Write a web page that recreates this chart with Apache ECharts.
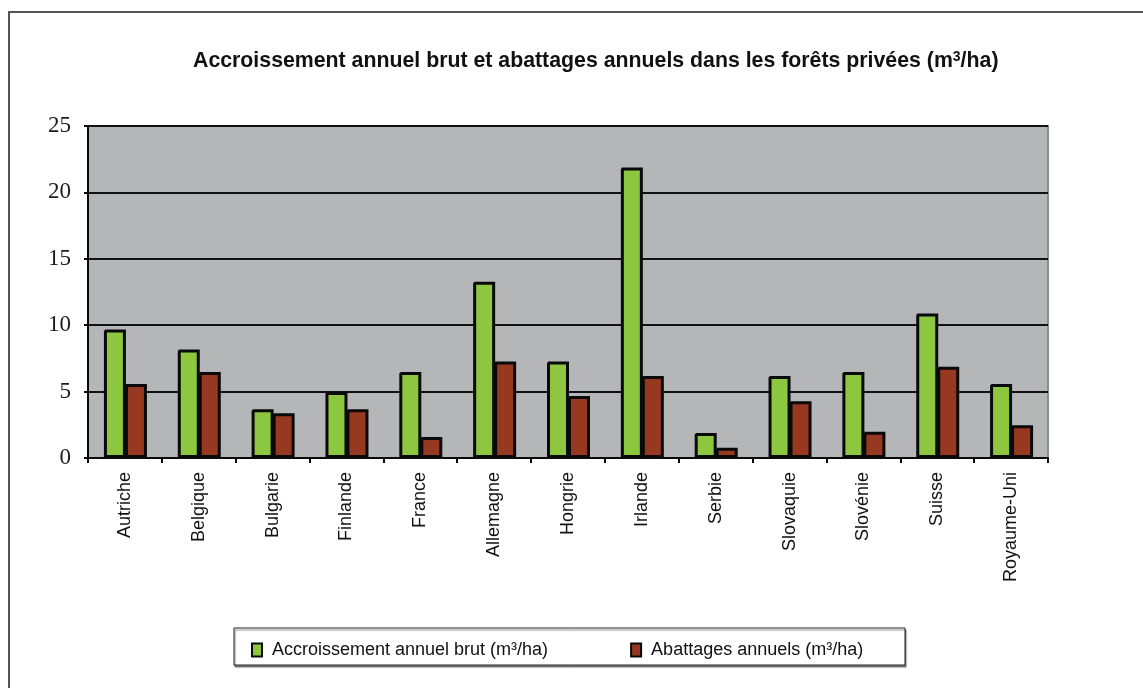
<!DOCTYPE html>
<html>
<head>
<meta charset="utf-8">
<script src="https://cdn.jsdelivr.net/npm/echarts@6/dist/echarts.min.js"></script>
<style>
  html, body { margin: 0; padding: 0; background: #ffffff; }
  #chart { width: 1143px; height: 688px; }
</style>
</head>
<body>
<div id="chart"></div>
<script>
// Private forests: gross annual increment and annual fellings (m3/ha)
const countries = ['Autriche', 'Belgique', 'Bulgarie', 'Finlande', 'France', 'Allemagne', 'Hongrie',
  'Irlande', 'Serbie', 'Slovaquie', 'Slovénie', 'Suisse', 'Royaume-Uni'];
const increment = [9.6, 8.1, 3.6, 4.9, 6.4, 13.2, 7.2, 21.8, 1.8, 6.1, 6.4, 10.8, 5.5];
const fellings = [5.5, 6.4, 3.3, 3.6, 1.5, 7.2, 4.6, 6.1, 0.7, 4.2, 1.9, 6.8, 2.4];
const yTicks = [0, 5, 10, 15, 20, 25];

const seriesNames = ['Accroissement annuel brut (m³/ha)', 'Abattages annuels (m³/ha)'];

const chart = echarts.init(document.getElementById('chart'), null, { renderer: 'canvas' });

const SANS = 'Liberation Sans, Arial, sans-serif';

const barStyle = (fill) => ({
  color: fill,
  borderColor: '#0a0a0a',
  borderWidth: 2,
  shadowColor: '#0a0a0a',
  shadowOffsetX: 1,
  shadowOffsetY: -1,
  shadowBlur: 0
});

chart.setOption({
  animation: false,
  backgroundColor: '#ffffff',
  title: {
    text: '{t|Accroissement annuel brut et abattages annuels dans les forêts privées (m}{s|3}{t|/ha)}',
    left: 188,
    top: 45,
    textStyle: {
      fontFamily: SANS,
      fontSize: 21.3,
      fontWeight: 'bold',
      color: '#111',
      rich: {
        t: { fontFamily: SANS, fontSize: 21.3, fontWeight: 'bold', color: '#111' },
        s: { fontFamily: SANS, fontSize: 14, fontWeight: 'bold', color: '#111', verticalAlign: 'top', padding: [0, 0, 8, 0] }
      }
    }
  },
  graphic: [
    {
      type: 'rect',
      shape: { x: 9, y: 12, width: 1160, height: 700 },
      style: { fill: 'none', stroke: '#555', lineWidth: 2 },
      silent: true,
      z: 0
    },
    {
      type: 'rect',
      shape: { x: 234, y: 628, width: 671, height: 37 },
      style: { fill: '#fff', stroke: '#222', lineWidth: 1, shadowColor: 'rgba(0,0,0,0.45)', shadowOffsetX: 1, shadowOffsetY: 2, shadowBlur: 1 },
      silent: true,
      z: 1
    }
  ],
  legend: {
    left: 246,
    top: 636,
    itemGap: 82,
    itemWidth: 10,
    itemHeight: 13,
    icon: 'rect',
    data: seriesNames,
    textStyle: {
      fontFamily: SANS,
      fontSize: 18,
      color: '#111',
      padding: [0, 0, 0, 5]
    },
    z: 5
  },
  grid: {
    left: 88,
    right: 95,
    top: 126,
    bottom: 230,
    show: true,
    backgroundColor: '#b5b6b8',
    borderColor: '#8a8c8c',
    borderWidth: 2
  },
  xAxis: {
    type: 'category',
    data: countries,
    axisLine: { show: true, lineStyle: { color: '#0a0a0a', width: 2 } },
    axisTick: { show: true, alignWithLabel: false, length: 5, lineStyle: { color: '#0a0a0a', width: 2 } },
    axisLabel: {
      rotate: 90,
      margin: 14,
      fontFamily: SANS,
      fontSize: 18,
      color: '#111'
    }
  },
  yAxis: {
    type: 'value',
    min: yTicks[0],
    max: yTicks[yTicks.length - 1],
    interval: 5,
    axisLine: { show: true, lineStyle: { color: '#0a0a0a', width: 2 } },
    axisTick: { show: true, length: 4, lineStyle: { color: '#0a0a0a', width: 2 } },
    axisLabel: {
      margin: 17,
      fontFamily: 'Liberation Serif, Times New Roman, serif',
      fontSize: 23,
      color: '#1c1c1c'
    },
    splitLine: {
      show: true,
      lineStyle: { color: '#111', width: 2 }
    }
  },
  series: [
    {
      name: seriesNames[0],
      type: 'bar',
      data: increment,
      barWidth: 21,
      barGap: '0%',
      itemStyle: barStyle('#8dc63f')
    },
    {
      name: seriesNames[1],
      type: 'bar',
      data: fellings,
      barWidth: 21,
      barGap: '0%',
      itemStyle: barStyle('#973821')
    }
  ]
});
</script>
</body>
</html>
